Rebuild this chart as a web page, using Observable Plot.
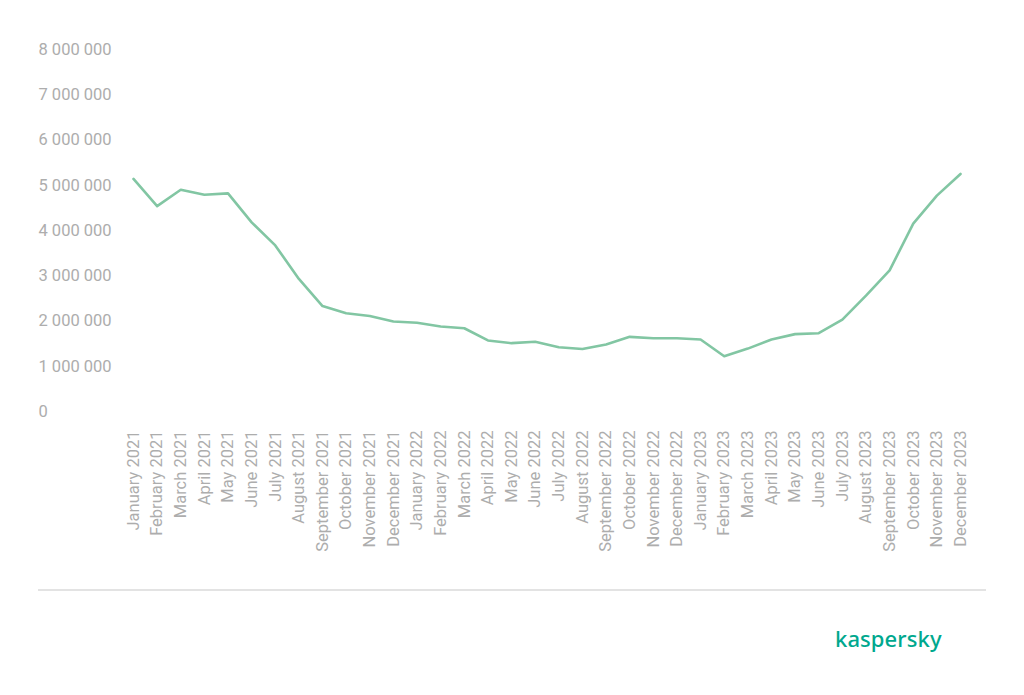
<!DOCTYPE html>
<html>
<head>
<meta charset="utf-8">
<script src="https://cdn.jsdelivr.net/npm/d3@7"></script>
<script src="https://cdn.jsdelivr.net/npm/@observablehq/plot@0.6"></script>
<style>
  html, body { margin: 0; padding: 0; background: #ffffff; }
  #wrap { position: relative; width: 1024px; height: 695px; overflow: hidden; }
  #footer { position: relative; width: 1024px; height: 135px; }
  #rule { position: absolute; left: 38px; top: 29px; width: 948px; height: 2px; background: #e3e3e3; }
  #logo { position: absolute; left: 835px; top: 67px; font-family: "Noto Sans", Roboto, sans-serif; font-size: 22px; font-weight: 500; color: #00a88e; letter-spacing: 0.1px; line-height: 1; }
</style>
</head>
<body>
<div id="wrap">
  <div id="chart"></div>
  <div id="footer"><div id="rule"></div><div id="logo">kaspersky</div></div>
</div>
<script>
const months = [
  "January 2021","February 2021","March 2021","April 2021","May 2021","June 2021",
  "July 2021","August 2021","September 2021","October 2021","November 2021","December 2021",
  "January 2022","February 2022","March 2022","April 2022","May 2022","June 2022",
  "July 2022","August 2022","September 2022","October 2022","November 2022","December 2022",
  "January 2023","February 2023","March 2023","April 2023","May 2023","June 2023",
  "July 2023","August 2023","September 2023","October 2023","November 2023","December 2023"
];
const values = [
  5140000, 4540000, 4900000, 4790000, 4820000, 4180000,
  3670000, 2930000, 2330000, 2170000, 2110000, 1990000,
  1960000, 1880000, 1840000, 1570000, 1510000, 1540000,
  1420000, 1380000, 1480000, 1650000, 1620000, 1620000,
  1590000, 1220000, 1390000, 1590000, 1710000, 1730000,
  2030000, 2560000, 3120000, 4150000, 4770000, 5250000
];
const yTicks = [0, 1000000, 2000000, 3000000, 4000000, 5000000, 6000000, 7000000, 8000000];

const data = months.map((m, i) => ({index: i, month: m, value: values[i]}));
const fmt = d3.formatLocale({decimal: ".", thousands: " ", grouping: [3], currency: ["", ""]}).format(",");

const chart = Plot.plot({
  width: 1024,
  height: 560,
  marginTop: 49,
  marginBottom: 149,
  marginLeft: 133,
  marginRight: 64,
  style: {fontFamily: "Roboto, sans-serif", fontSize: "16.5px", color: "#adadad", background: "#ffffff"},
  x: {type: "linear", domain: [0, months.length - 1], label: null},
  y: {domain: [0, 8000000], label: null},
  marks: [
    Plot.axisY({ticks: yTicks, tickFormat: fmt, tickSize: 0, tickPadding: 0, textAnchor: "start", dx: -95, label: null}),
    Plot.axisX({ticks: data.map(d => d.index), tickFormat: i => months[i], tickRotate: -90, tickSize: 0, tickPadding: 19, label: null}),
    Plot.line(data, {x: "index", y: "value", stroke: "#82c6a3", strokeWidth: 2.6, strokeLinejoin: "round"})
  ]
});
document.getElementById("chart").appendChild(chart);
</script>
</body>
</html>
